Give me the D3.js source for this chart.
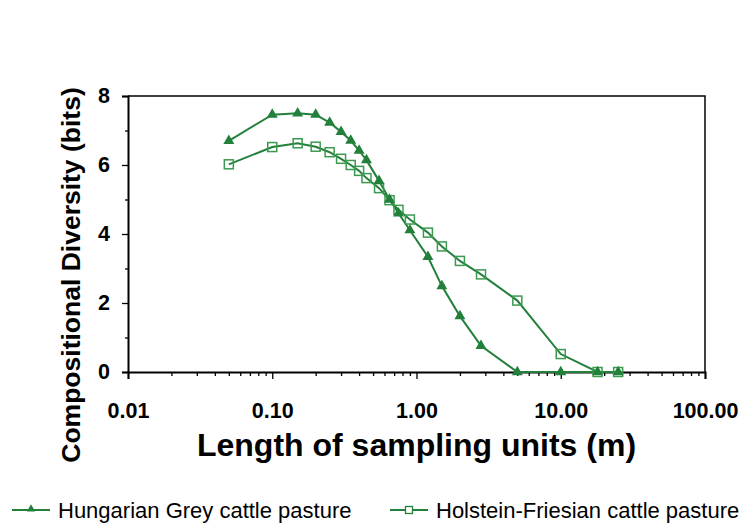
<!DOCTYPE html>
<html>
<head>
<meta charset="utf-8">
<script src="https://cdn.jsdelivr.net/npm/d3@7"></script>
<style>
  body { margin: 0; background: #fff; }
  text { font-family: "Liberation Sans", Arial, sans-serif; }
</style>
</head>
<body>
<div id="chart"></div>
<script>
// sampling unit lengths (m)
var lengths = [0.05, 0.1, 0.15, 0.2, 0.25, 0.3, 0.35, 0.4, 0.45, 0.55, 0.65, 0.75, 0.9, 1.2, 1.5, 2, 2.8, 5, 10, 18, 25];
var hungarianGrey = [6.7, 7.46, 7.5, 7.46, 7.23, 6.96, 6.71, 6.42, 6.14, 5.54, 5.0, 4.6, 4.11, 3.34, 2.49, 1.62, 0.76, 0, 0, 0, 0];
var holsteinFriesian = [6.02, 6.52, 6.63, 6.53, 6.37, 6.18, 6.0, 5.83, 5.62, 5.33, 4.98, 4.7, 4.42, 4.04, 3.64, 3.22, 2.83, 2.07, 0.52, 0, 0];
var yTicks = [0, 2, 4, 6, 8];
var yMinor = [1, 3, 5, 7];
var xTicks = [0.01, 0.1, 1, 10, 100];
var seriesNames = ["Hungarian Grey cattle pasture", "Holstein-Friesian cattle pasture"];

var W = 743, H = 524;
var green = "#23803b";

var svg = d3.select("#chart").append("svg")
  .attr("width", W)
  .attr("height", H);

var x = d3.scaleLog().domain([0.01, 100]).range([128, 705]);
var y = d3.scaleLinear().domain([0, 8]).range([372, 96]);

// frame (top / right)
svg.append("path")
  .attr("d", "M" + x(0.01) + "," + y(8) + "H" + x(100) + "V" + y(0))
  .attr("fill", "none")
  .attr("stroke", "#000")
  .attr("stroke-width", 1.5);

// y axis
var yAxis = svg.append("g")
  .attr("transform", "translate(" + x(0.01) + ",0)")
  .call(d3.axisLeft(y).tickValues(yTicks).tickSize(6).tickPadding(12).tickFormat(d3.format("d")));
svg.append("g")
  .attr("transform", "translate(" + x(0.01) + ",0)")
  .call(d3.axisLeft(y).tickValues(yMinor).tickSize(3).tickFormat(""))
  .call(function (g) { g.select(".domain").remove(); });

// x axis
var minorX = x.ticks().filter(function (d) { return xTicks.indexOf(d) < 0; });
var xAxis = svg.append("g")
  .attr("transform", "translate(0," + y(0) + ")")
  .call(d3.axisBottom(x).tickValues(xTicks).tickSize(7).tickFormat(d3.format(".2f")));
svg.append("g")
  .attr("transform", "translate(0," + y(0) + ")")
  .call(d3.axisBottom(x).tickValues(minorX).tickSize(4).tickFormat(""))
  .call(function (g) { g.select(".domain").remove(); });

xAxis.selectAll("text").attr("y", 31);

svg.selectAll(".domain").attr("stroke-width", 2).attr("stroke", "#000");
svg.selectAll(".tick line").attr("stroke", "#000").attr("stroke-width", 1.3);
svg.selectAll(".tick text")
  .attr("font-family", "'Liberation Sans', Arial, sans-serif")
  .attr("font-size", 21.5)
  .attr("font-weight", "bold")
  .attr("fill", "#000");

// axis titles
svg.append("text")
  .attr("x", (x(0.01) + x(100)) / 2)
  .attr("y", 456)
  .attr("text-anchor", "middle")
  .attr("font-size", 32)
  .attr("font-weight", "bold")
  .text("Length of sampling units (m)");

svg.append("text")
  .attr("transform", "translate(80,275) rotate(-90)")
  .attr("text-anchor", "middle")
  .attr("font-size", 26.5)
  .attr("font-weight", "bold")
  .text("Compositional Diversity (bits)");

// lines
var line = d3.line()
  .x(function (d) { return x(d[0]); })
  .y(function (d) { return y(d[1]); });

var hgData = lengths.map(function (l, i) { return [l, hungarianGrey[i]]; });
var hfData = lengths.map(function (l, i) { return [l, holsteinFriesian[i]]; });

svg.append("path").datum(hfData)
  .attr("d", line).attr("fill", "none").attr("stroke", green).attr("stroke-width", 2);
svg.append("path").datum(hgData)
  .attr("d", line).attr("fill", "none").attr("stroke", green).attr("stroke-width", 2);

var tri = d3.symbol().type(d3.symbolTriangle).size(52);

svg.selectAll(".sq").data(hfData).enter().append("rect")
  .attr("class", "sq")
  .attr("x", function (d) { return x(d[0]) - 4.5; })
  .attr("y", function (d) { return y(d[1]) - 4.5; })
  .attr("width", 9).attr("height", 9)
  .attr("fill", "none")
  .attr("stroke", "#3c9a50")
  .attr("stroke-width", 1.5);

svg.selectAll(".tri").data(hgData).enter().append("path")
  .attr("class", "tri")
  .attr("transform", function (d) { return "translate(" + x(d[0]) + "," + y(d[1]) + ")"; })
  .attr("d", tri)
  .attr("fill", green);

// legend
var leg = svg.append("g");
var legItems = [
  { name: seriesNames[0], x0: 12, type: "tri" },
  { name: seriesNames[1], x0: 390, type: "sq" }
];
legItems.forEach(function (it) {
  var g = leg.append("g").attr("transform", "translate(" + it.x0 + ",510)");
  g.append("line").attr("x1", 0).attr("x2", 38).attr("y1", 0).attr("y2", 0)
    .attr("stroke", green).attr("stroke-width", 2);
  if (it.type === "tri") {
    g.append("path").attr("transform", "translate(19,-1)")
      .attr("d", d3.symbol().type(d3.symbolTriangle).size(30)).attr("fill", green);
  } else {
    g.append("rect").attr("x", 15.5).attr("y", -3.5).attr("width", 7).attr("height", 7)
      .attr("fill", "#fff").attr("stroke", green).attr("stroke-width", 1.3);
  }
  g.append("text").attr("x", 46).attr("y", 8)
    .attr("font-size", 22)
    .attr("fill", "#000")
    .text(it.name);
});
</script>
</body>
</html>
